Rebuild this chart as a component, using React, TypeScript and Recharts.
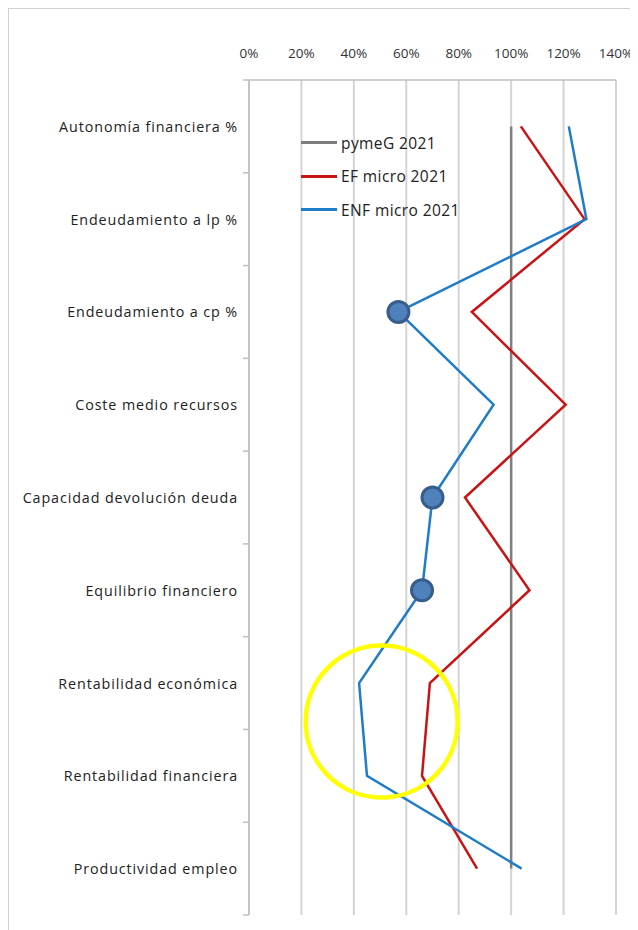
import React from 'react';
import { ComposedChart, Line, XAxis, YAxis, CartesianGrid, Legend, ReferenceDot } from 'recharts';

const categories = [
  'Autonomía financiera %',
  'Endeudamiento a lp %',
  'Endeudamiento a cp %',
  'Coste medio recursos',
  'Capacidad devolución deuda',
  'Equilibrio financiero',
  'Rentabilidad económica',
  'Rentabilidad financiera',
  'Productividad empleo',
];
const pymeG2021 = [1, 1, 1, 1, 1, 1, 1, 1, 1];
const efMicro2021 = [1.037, 1.28, 0.85, 1.208, 0.824, 1.07, 0.69, 0.66, 0.87];
const enfMicro2021 = [1.22, 1.287, 0.57, 0.933, 0.70, 0.66, 0.42, 0.45, 1.04];
const enfHighlighted = ['Endeudamiento a cp %', 'Capacidad devolución deuda', 'Equilibrio financiero'];
const xTicks = [0, 0.2, 0.4, 0.6, 0.8, 1.0, 1.2, 1.4];
// band boundaries (integers) and band centres (halves) on the category position scale
const yTicks = categories.flatMap((_, i) => [i, i + 0.5]).concat([categories.length]);
const highlightCircle = { x: 0.506, y: 6.915 };

const seriesInfo = [
  { key: 'pyme', name: 'pymeG 2021', color: '#7f7f7f' },
  { key: 'ef', name: 'EF micro 2021', color: '#c81414' },
  { key: 'enf', name: 'ENF micro 2021', color: '#1f7dc8' },
];

const data = categories.map((name, i) => ({
  name,
  pos: i + 0.5,
  pyme: pymeG2021[i],
  ef: efMicro2021[i],
  enf: enfMicro2021[i],
}));

const FONT = "'Open Sans', 'DejaVu Sans', sans-serif";

const EnfDot = (props: any) => {
  const { cx, cy, payload } = props;
  if (!payload || !enfHighlighted.includes(payload.name)) return <g key={props.key} />;
  return <circle key={props.key} cx={cx} cy={cy} r={10.5} fill="#4f81bd" stroke="#385d8a" strokeWidth={3} />;
};

const CategoryTick = (props: any) => {
  const { x, y, payload } = props;
  const v = payload.value;
  if (Number.isInteger(v)) {
    return <line x1={x - 6} x2={x} y1={y} y2={y} stroke="#bfbfbf" strokeWidth={1.5} />;
  }
  const label = categories[Math.floor(v)];
  return (
    <text
      x={x - 11}
      y={y}
      textAnchor="end"
      dominantBaseline="central"
      fontFamily={FONT}
      fontSize={14.3}
      letterSpacing={0.9}
      fill="#222"
    >
      {label}
    </text>
  );
};

const LegendContent = () => (
  <div style={{ fontFamily: FONT }}>
    {seriesInfo.map((p) => (
      <div key={p.key} style={{ display: 'flex', alignItems: 'center', height: 33.5 }}>
        <span style={{ display: 'inline-block', width: 36, height: 3, background: p.color, marginRight: 4 }} />
        <span style={{ fontSize: 15.5, letterSpacing: 0.4, color: '#222', whiteSpace: 'nowrap' }}>{p.name}</span>
      </div>
    ))}
  </div>
);

export default function App() {
  return (
    <div style={{ border: '1px solid #d0d0d0', width: 700, height: 1000, background: '#fff' }}>
      <ComposedChart
        layout="vertical"
        width={629}
        height={921}
        data={data}
        margin={{ top: 0, right: 22, bottom: 15, left: 0 }}
      >
        <CartesianGrid horizontal={false} stroke="#d4d4d4" strokeWidth={2} />
        <XAxis
          type="number"
          orientation="top"
          domain={[0, 1.4]}
          ticks={xTicks}
          tickFormatter={(v: number) => `${Math.round(v * 100)}%`}
          height={71}
          tickLine={false}
          tickMargin={16}
          axisLine={{ stroke: '#bfbfbf', strokeWidth: 1.5 }}
          tick={{ fontFamily: FONT, fontSize: 13.5, fill: '#333' }}
          interval={0}
        />
        <YAxis
          type="number"
          dataKey="pos"
          domain={[0, categories.length]}
          ticks={yTicks}
          width={240}
          tick={<CategoryTick />}
          tickLine={false}
          tickSize={0}
          tickMargin={0}
          axisLine={{ stroke: '#bfbfbf', strokeWidth: 1.5 }}
          allowDataOverflow
          interval={0}
        />
        <Legend
          layout="vertical"
          align="center"
          verticalAlign="middle"
          content={<LegendContent />}
          wrapperStyle={{ left: 292, top: 117, width: 200, bottom: 'auto', right: 'auto' }}
        />
        <Line dataKey="pyme" name="pymeG 2021" stroke="#7f7f7f" strokeWidth={2.5} dot={false} isAnimationActive={false} />
        <Line dataKey="ef" name="EF micro 2021" stroke="#c81414" strokeWidth={2.5} dot={false} isAnimationActive={false} />
        <Line dataKey="enf" name="ENF micro 2021" stroke="#1f7dc8" strokeWidth={2.5} dot={<EnfDot />} isAnimationActive={false} />
        <ReferenceDot
          x={highlightCircle.x}
          y={highlightCircle.y}
          r={76}
          fill="none"
          stroke="#ffff00"
          strokeWidth={4.5}
          ifOverflow="visible"
        />
      </ComposedChart>
    </div>
  );
}
